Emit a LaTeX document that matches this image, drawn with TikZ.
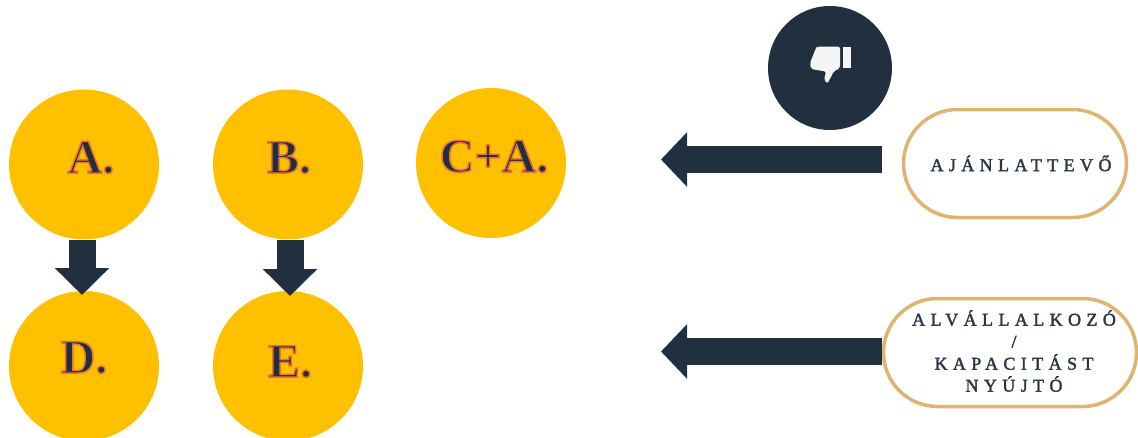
\documentclass[tikz,border=0pt]{standalone}
\usepackage{fontspec}
\setmainfont{Liberation Serif}
\usetikzlibrary{arrows.meta,shapes.misc}
\definecolor{gold}{HTML}{FFC000}
\definecolor{navy}{HTML}{222F3E}
\definecolor{tan}{HTML}{DDB470}
\definecolor{ink}{HTML}{2B3645}
\newcommand{\outl}[1]{\special{pdf:code q 2 Tr 0.93 0.45 0.2 RG 1.5 w}#1\special{pdf:code 0 Tr Q}}
\newcommand{\semi}[1]{\special{pdf:code q 2 Tr 0.169 0.212 0.271 RG 0.35 w}#1\special{pdf:code 0 Tr Q}}
\tikzset{
  bigdot/.style={circle,fill=gold,minimum size=150pt,inner sep=0pt,outer sep=0pt},
  letter/.style={anchor=base,inner sep=0pt,text=navy,font=\fontsize{48}{48}\selectfont\bfseries},
  pill/.style={rounded rectangle,draw=tan,line width=3.5pt,fill=white,inner sep=0pt,outer sep=0pt,align=center,text=ink},
  spaced/.style={font=\fontsize{18}{22}\selectfont\addfontfeature{LetterSpace=30}},
  downarrow/.style={navy,line width=27pt,-{Triangle[length=27pt,width=53pt]}},
  leftarrow/.style={navy,line width=27pt,-{Triangle[length=26pt,width=53pt]}}
}
\begin{document}
\begin{tikzpicture}[x=1pt,y=-1pt]
\useasboundingbox (0,0) rectangle (1138,437);
\clip (0,0) rectangle (1138,437);
\node[bigdot] (A) at (84,164.5) {};
\node[bigdot] (B) at (288,164.5) {};
\node[bigdot] (CA) at (491,163) {};
\node[bigdot] (D) at (84,366) {};
\node[bigdot] (E) at (288,366) {};
\node[letter] (tA) at (91,173) {\outl{A.}};
\node[letter] (tB) at (289,173) {\outl{B.}};
\node[letter] (tCA) at (494,172) {\outl{C+A.}};
\node[letter] (tD) at (84,373) {\outl{D.}};
\node[letter] (tE) at (290,377) {\outl{E.}};
\draw[downarrow,shorten >=-4pt] (A.south -| 82,0) -- (D.north -| 82,0);
\draw[downarrow,shorten >=-5pt] (B.south -| 290,0) -- (E.north -| 290,0);
\node[circle,fill=navy,minimum size=124pt,inner sep=0pt] (thumb) at (830,68) {};
\fill[white!95!navy] (843.3,46.7) rectangle (851,68.3);
\fill[white!95!navy,rounded corners=2pt] (817,46.7) -- (840,46.7) -- (840,68.3) -- (834,71) -- (827.5,83.5) -- (824,80) -- (826,71.5) -- (811,69) -- (810,63) -- (816,48) -- cycle;
\node[pill,spaced,minimum width=223pt,minimum height=108pt] (aj) at (1015,163.5) {\hspace*{12pt}\semi{AJÁNLATTEVŐ}};
\node[pill,spaced,minimum width=253pt,minimum height=108pt] (al) at (1010,352.5) {};
\node[inner sep=0pt,align=center,text=ink,spaced] (alt) at (1014,351) {\semi{ALVÁLLALKOZÓ}\\\semi{/}\\\semi{KAPACITÁST}\\\semi{NYÚJTÓ}};
\coordinate (t1) at (661,159.5);
\coordinate (t2) at (661,351.5);
\draw[leftarrow,shorten <=22pt] (aj.west |- t1) -- (t1);
\draw[leftarrow,shorten <=2pt] (al.west |- t2) -- (t2);
\end{tikzpicture}
\end{document}
